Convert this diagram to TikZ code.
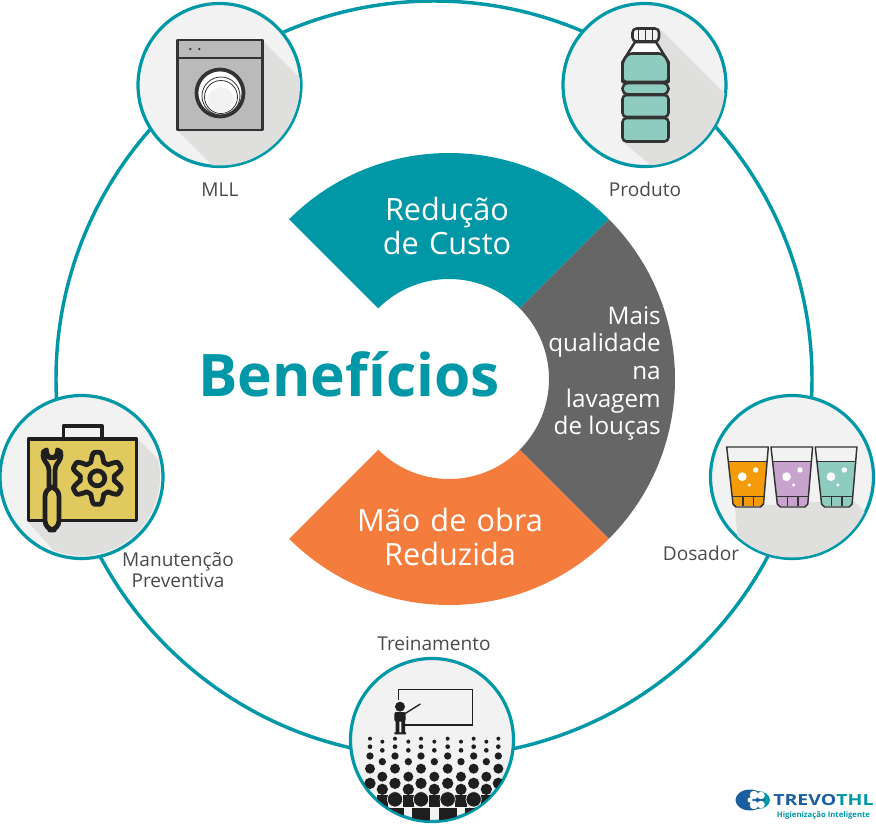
\documentclass[tikz,border=0pt]{standalone}
\usepackage{fontspec}
\usetikzlibrary{calc}
\setmainfont{Open Sans}
\definecolor{ringteal}{HTML}{0097A7}
\definecolor{discfill}{HTML}{F1F2F1}
\definecolor{shadowgray}{HTML}{DFDFDE}
\definecolor{costgray}{HTML}{666666}
\definecolor{laborange}{HTML}{F47C3C}
\definecolor{labeltext}{HTML}{4A4A4A}
\definecolor{iconline}{HTML}{333333}
\definecolor{bottlewater}{HTML}{8FCCC0}
\definecolor{boxyellow}{HTML}{E0C95F}
\definecolor{juiceorange}{HTML}{F49B0A}
\definecolor{juicepurple}{HTML}{C7A3CD}
\definecolor{logoblue}{HTML}{1B5FA0}
\newcommand{\fsize}[1]{\fontsize{#1}{#1}\selectfont}

\begin{document}
\begin{tikzpicture}[x=.75pt,y=-.75pt]
\tikzstyle{disc}=[draw=ringteal,fill=discfill,circle,line width=2.4pt,inner sep=0pt,minimum size=122.25pt]
\tikzstyle{label}=[text=labeltext,font=\fsize{14.3},align=center,inner sep=0pt]
\tikzstyle{sector}=[text=white,font=\fsize{23},align=center,inner sep=0pt]
\tikzstyle{icon}=[draw=iconline,line width=1.9pt,line join=round]

\useasboundingbox (0,0) rectangle (876,825);

\node (ring) at (434,379) [draw=ringteal,circle,line width=2.6pt,inner sep=0pt,minimum size=567pt] {};

% the three sectors
\coordinate (hub) at (449,379);
\fill[ringteal] ($(hub)+(225:100)$) arc [start angle=225,end angle=315,radius=100] -- ($(hub)+(315:226)$) arc [start angle=315,end angle=225,radius=226] -- cycle;
\fill[costgray] ($(hub)+(315:100)$) arc [start angle=315,end angle=405,radius=100] -- ($(hub)+(45:226)$) arc [start angle=45,end angle=-45,radius=226] -- cycle;
\fill[laborange] ($(hub)+(45:100)$) arc [start angle=45,end angle=135,radius=100] -- ($(hub)+(135:226)$) arc [start angle=135,end angle=45,radius=226] -- cycle;

\node (benefits) at (349,374) [text=ringteal,font=\fsize{44}\bfseries,inner sep=0pt] {Benefícios};
\node (cost) at (447,226) [sector,text width=200pt] {Redução\\[3pt]de Custo};
\node (labor) at (450,537) [sector,text width=200pt] {Mão de obra\\[3pt]Reduzida};
\node (quality) [left,sector,font=\fsize{18.2},align=right] at (661,373.5) {Mais\\[2.5pt]qualidade\\[2.5pt]na\\[2.5pt]lavagem\\[2.5pt]de louças};

\node (mll) at (219.5,85) [disc] {};
\node (produto) at (644.5,85) [disc] {};
\node (manut) at (81.5,477) [disc] {};
\node (dosador) at (792,477) [disc] {};
\node (treino) at (432,740) [disc] {};

\node (mllText) at (220,190) [label] {MLL};
\node (produtoText) at (645,189) [label] {Produto};
\node (manutText) at (178,570) [label] {Manutenção\\[1pt]Preventiva};
\node (dosadorText) at (701,553) [label] {Dosador};
\node (treinoText) at (434,644) [label] {Treinamento};

% washing machine
\begin{scope}
\clip (219.5,85) circle (80.5);
\fill[shadowgray] (262,40) -- (362,140) -- (277,230) -- (177,130) -- cycle;
\end{scope}
\draw[icon,fill=black!27] (177.5,40) rectangle (262.5,130);
\draw[icon] (177.5,58) -- (262.5,58);
\fill[iconline] (190.3,49) circle (1.3) (199.3,49) circle (1.3);
\draw[icon,fill=white,line width=2.8pt] (220,93) circle (23.5);
\draw[iconline,line width=.6pt] (221,96) circle (19);
\draw[iconline,line width=.6pt] (221,97) circle (16.5);
\fill[discfill] (221,100) circle (13);

% bottle
\begin{scope}
\clip (644.5,85) circle (80.5);
\fill[shadowgray] (659,28) -- (780,149) -- (744,242) -- (623,142) -- cycle;
\end{scope}
\draw[icon,fill=white] (635,42) -- (622.5,62) -- (622.5,82) -- (668.5,82) -- (668.5,62) -- (656,42) -- cycle;
\draw[icon,fill=bottlewater,rounded corners=3pt] (622.5,82) -- (622.5,62) -- (628,53.5) -- (663,53.5) -- (668.5,62) -- (668.5,82) -- cycle;
\draw[icon,fill=bottlewater,rounded corners=4pt] (622.5,83) rectangle (668.5,94.5);
\draw[icon,fill=bottlewater,rounded corners=3pt] (622.5,95) rectangle (668.5,117);
\draw[icon,fill=bottlewater,rounded corners=3pt] (622.5,118) rectangle (668.5,141.5);
\draw[icon,fill=discfill,rounded corners=3pt] (632.5,28.5) rectangle (659,41.5);
\draw[icon,line width=1.2pt] (638.5,29) -- (638.5,41) (645.5,29) -- (645.5,41) (652.5,29) -- (652.5,41);

% toolbox
\begin{scope}
\clip (81.5,477) circle (78.5);
\fill[shadowgray] (137,438) -- (240,541) -- (130,634) -- (27,521) -- cycle;
\end{scope}
\begin{scope}[draw=black!88,line width=2.9pt,line join=round]
\draw[fill=discfill] (63.5,438) -- (63.5,426) -- (102,426) -- (102,438);
\draw[fill=boxyellow] (28.5,439) rectangle (136.5,520.5);
\draw[line width=3.6pt,fill=boxyellow,rounded corners=3pt] (46.5,450) -- (43,452) -- (43,459) -- (49,466) -- (49,490) -- (55,490) -- (55,466) -- (61,459) -- (61,452) -- (57.5,450) -- (57.5,456) -- (52,458.5) -- (46.5,456) -- cycle;
\draw[line width=3.6pt,fill=boxyellow,rounded corners=7pt] (45,487) rectangle (59,530);
\draw[line width=3.6pt,fill=boxyellow] plot[smooth cycle,domain=0:357,samples=120] ({97.3+(21.5+4.5*max(-1,min(1,-1.5*cos(6*\x))))*cos(\x)},{478.3+(21.5+4.5*max(-1,min(1,-1.5*cos(6*\x))))*sin(\x)});
\draw[line width=3.6pt] (97.3,478.3) circle (7.5);
\end{scope}

% glasses
\begin{scope}
\clip (792,477) circle (80.5);
\fill[shadowgray] (735,507) -- (740,570) -- (890,570) -- (890,537) -- (853,500) -- cycle;
\end{scope}
\foreach \juice [count=\gi from 0] in {juiceorange,juicepurple,bottlewater} {
\begin{scope}[xshift=\gi*44.3*.75pt]
\fill[\juice] (728.5,461.5) -- (767,461.5) -- (763,506) -- (733,506) -- cycle;
\draw[iconline,line width=1.1pt] (728.5,461.5) -- (767,461.5);
\draw[iconline,line width=1.1pt] (733,496.7) -- (763.5,496.7) (743,496.7) -- (743,506) (753.5,496.7) -- (753.5,506);
\draw[iconline,line width=1.1pt,line join=round] (726.7,447) -- (768.3,447) -- (763.5,504) -- (760.5,507) -- (736,507) -- (733,504) -- cycle;
\fill[white] (742.3,476.7) circle (4.4) (755.7,470) circle (2.7) (749.3,485) circle (1.7);
\end{scope}
}

% classroom
\begin{scope}
\clip (432,740) circle (80.5);
\begin{scope}[shift={(345,650)},x=.25pt,y=-.25pt]
\draw[black!88,line width=1pt] (160,150) -- (160,118) -- (382,118) -- (382,225) -- (180,225);
\fill[black!88] (165,170) circle (15);
\fill[black!88,rounded corners=1.5pt] (148,186) rectangle (182,215);
\fill[black!88] (152,213) rectangle (163,248) (169,213) rectangle (180,248) (148,247) rectangle (183,253);
\draw[black!88,line width=1pt] (178,192) -- (226,162);
\foreach \rad/\ya/\yb in {6/266/275, 7/290/301, 11/318/335, 15/356/380, 17/400/418} {
\foreach \cx in {75,150,228,308,386,460} \fill[black!88] (\cx,\ya) circle (\rad);
\foreach \cx in {112,190,268,348,424} \fill[black!88] (\cx,\yb) circle (\rad);
}
\foreach \cx in {112,190,268,348,424} \fill[black!88] (\cx-17,436) rectangle (\cx+17,470);
\foreach \cx in {150,228,308,386} {
\fill[black!88] (\cx-27,475) rectangle (\cx+27,530);
\draw[discfill,fill=black!88,line width=.5pt] (\cx,448) circle (23);
}
\end{scope}
\end{scope}

% logo
\fill[ringteal] (758,800) ellipse (12 and 9);
\fill[logoblue] (750,800) ellipse (14.5 and 10.5);
\fill[white] (754,795) circle (4.3) (761,795.5) circle (3.8) (761,804.5) circle (3.8) (754,805) circle (4.3) (750,800) circle (2.5);
\node (logoName) at (773,800) [anchor=west,inner sep=0pt,font=\fsize{11.5}\bfseries,xscale=1.27,text=logoblue] {TREVO\textcolor{ringteal}{THL}};
\node (logoTag) at (823.5,815) [inner sep=0pt,font=\fsize{5.8}\bfseries,text=ringteal] {Higienização Inteligente};

\end{tikzpicture}
\end{document}
